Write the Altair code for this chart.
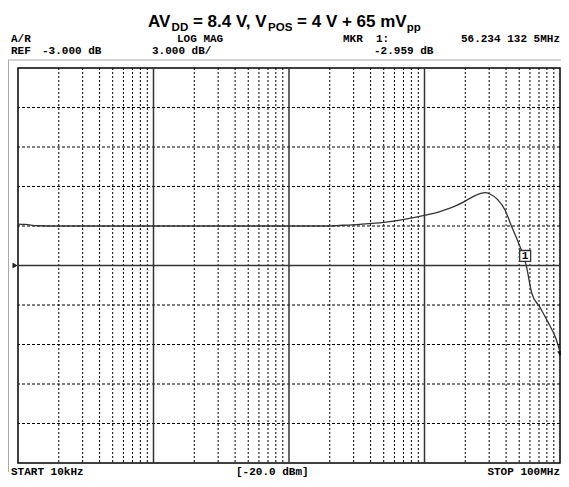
import altair as alt
import pandas as pd

# ---- data ----
freq_hz = [1.0e4, 1.13e4, 1.4e4, 2.0e4, 9.4e4, 3.0e5, 1.2e6, 2.0e6, 2.26e6, 3.34e6,
           5.0e6, 6.6e6, 8.5e6, 10.1e6, 11.0e6, 13.0e6, 15.4e6, 19.2e6, 23.6e6, 26.0e6,
           27.9e6, 30.4e6, 34.8e6, 39.3e6, 43.5e6, 49.0e6, 56.2341325e6, 62.1e6, 71.1e6,
           81.5e6, 93.3e6, 1.0e8]
gain_db = [0.15, 0.12, 0.02, 0.0, 0.0, 0.0, 0.0, 0.0, 0.03, 0.13,
           0.28, 0.45, 0.65, 0.82, 0.9, 1.1, 1.35, 1.8, 2.3, 2.47,
           2.53, 2.43, 1.98, 1.22, 0.08, -1.19, -2.959, -5.15, -6.17,
           -7.3, -8.55, -9.55]
decade_freqs = [1e5, 1e6, 1e7]
minor_mult = [2, 3, 4, 5, 6, 7, 8, 9]
decade_starts = [1e4, 1e5, 1e6, 1e7]
grid_db = [9, 6, 3, 0, -6, -9, -12, -15]
ref_db = [-3.0]
marker_freq = [56.2341325e6]
marker_db = [-2.959]
marker_label = ["1"]
title_parts = ["AV", "DD", "= 8.4 V, V", "POS", "= 4 V + 65 mV", "pp"]
header_row1 = ["A/R", "LOG MAG", "MKR", "1:", "56.234 132 5MHz"]
header_row2 = ["REF", "-3.000 dB", "3.000 dB/", "-2.959 dB"]
footer = ["START 10kHz", "[-20.0 dBm]", "STOP 100MHz"]

# ---- layout ----
W, H = 542, 395
xs = alt.Scale(type="log", domain=[1e4, 1e8], nice=False)
ys = alt.Scale(domain=[-18, 12], nice=False, zero=False)

curve_df = pd.DataFrame({"f": freq_hz, "db": gain_db})
minor_df = pd.DataFrame({"f": [m * d for d in decade_starts for m in minor_mult]})
decade_df = pd.DataFrame({"f": decade_freqs})
hgrid_df = pd.DataFrame({"db": grid_db})
ref_df = pd.DataFrame({"db": ref_db})
mk_df = pd.DataFrame({"f": marker_freq, "db": marker_db, "t": marker_label})
end_df = pd.DataFrame({"f": [freq_hz[-1]], "db": [gain_db[-1]]})
one = pd.DataFrame({"a": [0]})

X = lambda: alt.X("f:Q", scale=xs, axis=None)
Y = lambda: alt.Y("db:Q", scale=ys, axis=None)

layers = []
layers.append(alt.Chart(minor_df).mark_rule(color="#000", strokeWidth=1, strokeDash=[2, 2]).encode(x=X()))
layers.append(alt.Chart(hgrid_df).mark_rule(color="#000", strokeWidth=1, strokeDash=[3, 2]).encode(y=Y()))
layers.append(alt.Chart(decade_df).mark_rule(color="#333", strokeWidth=1.5).encode(x=X()))
layers.append(alt.Chart(ref_df).mark_rule(color="#333", strokeWidth=1.5).encode(y=Y()))
layers.append(alt.Chart(curve_df).mark_line(color="#333", strokeWidth=1.3, interpolate="monotone").encode(x=X(), y=Y()))
layers.append(alt.Chart(end_df).mark_point(shape="triangle-down", filled=True, size=30, color="#111", yOffset=2, opacity=1).encode(x=X(), y=Y()))
layers.append(alt.Chart(mk_df).mark_point(shape="square", size=120, filled=True, fill="#fff", stroke="#333", strokeWidth=1.3, opacity=1, yOffset=-9, xOffset=-1).encode(x=X(), y=Y()))
layers.append(alt.Chart(mk_df).mark_text(font="Liberation Mono", fontWeight="bold", fontSize=11, color="#000", yOffset=-9, xOffset=-1).encode(x=X(), y=Y(), text="t:N"))
# reference-level pointer at left
layers.append(alt.Chart(ref_df).mark_point(shape="triangle-right", filled=True, size=34, color="#222", opacity=1).encode(x=alt.value(-3), y=Y()))

# outer grey frame
layers.append(alt.Chart(one).mark_rule(color="#aaa", strokeWidth=1).encode(x=alt.value(-10), x2=alt.value(545), y=alt.value(-8)))
layers.append(alt.Chart(one).mark_rule(color="#aaa", strokeWidth=1).encode(x=alt.value(-9.5), y=alt.value(-8), y2=alt.value(404)))

def txt(s, px, py, size=11, font="Liberation Mono", weight="bold", align="left"):
    return alt.Chart(one).mark_text(font=font, fontWeight=weight, fontSize=size, align=align,
                                    baseline="alphabetic", color="#000").encode(
        x=alt.value(px), y=alt.value(py), text=alt.value(s))

# title (second line)
tb = -41
tsz = [17, 11.5, 17, 11.5, 17, 11.5]
tw = [1389, 1444, 4420, 2112, 6449, 1222]   # Arial-bold advance widths (1/1000 em)
px = 130.0
for i, (s, sz) in enumerate(zip(title_parts, tsz)):
    layers.append(txt(s, px, tb + (4 if sz < 12 else 0), size=sz, font="Liberation Sans"))
    px += tw[i] * sz / 1000 + (4.7 if i in (1, 3) else 0)

# header rows
r1 = [-7, 159, 325, 358, 542]
for s, x0 in zip(header_row1, r1):
    layers.append(txt(s, x0, -26, align="right" if s.endswith("MHz") else "left"))
r2 = [-7, 24, 134, 356]
for s, x0 in zip(header_row2, r2):
    layers.append(txt(s, x0, -14))

# footer
layers.append(txt(footer[0], -7, 407))
layers.append(txt(footer[1], 218, 407))
layers.append(txt(footer[2], 542, 407, align="right"))

chart = alt.layer(*layers).properties(
    width=W, height=H,
    autosize=alt.AutoSizeParams(type="none"),
    padding={"left": 10, "top": 60, "right": 1, "bottom": 14},
    background="white",
).configure_view(stroke="#000", strokeWidth=1.5)

chart.save("out.html", embed_options={"renderer": "svg", "actions": False})
